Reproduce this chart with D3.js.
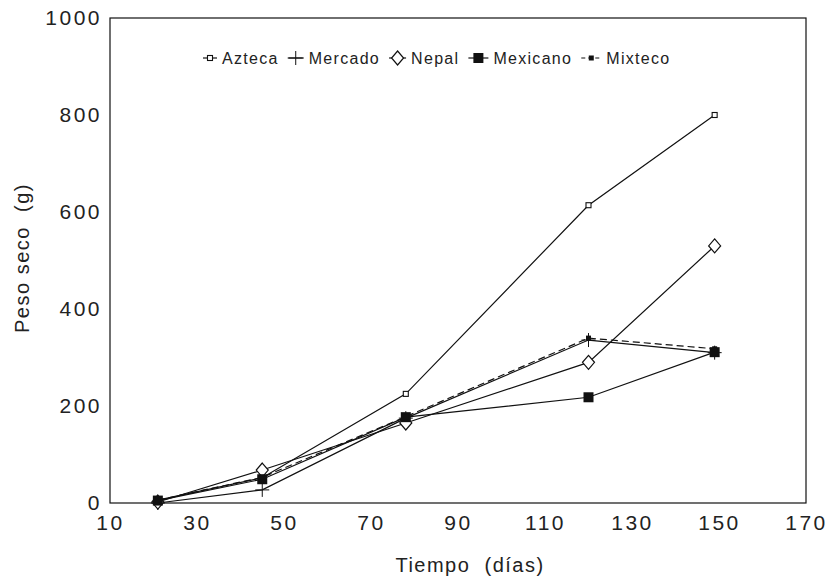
<!DOCTYPE html>
<html>
<head>
<meta charset="utf-8">
<script src="https://cdn.jsdelivr.net/npm/d3@7"></script>
<style>
  body { margin: 0; background: #fff; }
  text { font-family: "Liberation Sans", Arial, sans-serif; fill: #222; }
</style>
</head>
<body>
<div id="chart"></div>
<script>
// days after sowing
const dias = [21, 45, 78, 120, 149];

// dry weight (g) per variety
const azteca   = [6, 52, 225, 614, 800];
const mercado  = [0, 27, 175, 336, 310];
const nepal    = [2, 68, 165, 290, 530];
const mexicano = [5, 49, 177, 218, 311];
const mixteco  = [6, 53, 178, 340, 318];

const nombres = ["Azteca", "Mercado", "Nepal", "Mexicano", "Mixteco"];
const xTicks = [10, 30, 50, 70, 90, 110, 130, 150, 170];
const yTicks = [0, 200, 400, 600, 800, 1000];

const series = [
  {name: nombres[0], values: azteca,   marker: "openSquare"},
  {name: nombres[1], values: mercado,  marker: "plus"},
  {name: nombres[2], values: nepal,    marker: "diamond"},
  {name: nombres[3], values: mexicano, marker: "bigSquare"},
  {name: nombres[4], values: mixteco,  marker: "smallSquare", dash: "7,4"}
];

const svgWidth = 830, svgHeight = 580;
const margin = {top: 18, right: 24, bottom: 77, left: 110};
const width = svgWidth - margin.left - margin.right,
      height = svgHeight - margin.top - margin.bottom;

const svg = d3.select("#chart").append("svg")
    .attr("width", svgWidth).attr("height", svgHeight);

const g = svg.append("g")
    .attr("transform", "translate(" + margin.left + "," + margin.top + ")");

const x = d3.scaleLinear().domain([10, 170]).range([0, width]);
const y = d3.scaleLinear().domain([0, 1000]).range([height, 0]);

// frame
g.append("rect")
    .attr("width", width).attr("height", height)
    .attr("fill", "none").attr("stroke", "#111").attr("stroke-width", 1.2);

// axes, labels only
const xAxis = g.append("g")
    .attr("transform", "translate(0," + height + ")")
    .call(d3.axisBottom(x).tickValues(xTicks).tickFormat(d3.format("d")).tickSize(0).tickPadding(12));
const yAxis = g.append("g")
    .call(d3.axisLeft(y).tickValues(yTicks).tickFormat(d3.format("d")).tickSize(0).tickPadding(8));
[xAxis, yAxis].forEach(a => {
  a.select(".domain").remove();
  a.selectAll("text")
    .style("font-size", "21px")
    .style("letter-spacing", "2.5px")
    .style("font-family", "Liberation Sans, Arial, sans-serif")
    .attr("fill", "#222");
});

svg.append("text")
    .attr("x", 470).attr("y", 572)
    .attr("text-anchor", "middle")
    .style("font-size", "20px")
    .style("letter-spacing", "1.5px")
    .text("Tiempo\u00a0\u00a0(días)");

svg.append("text")
    .attr("transform", "translate(29,258) rotate(-90)")
    .attr("text-anchor", "middle")
    .style("font-size", "20px")
    .style("letter-spacing", "1.5px")
    .text("Peso seco\u00a0\u00a0(g)");

function drawMarker(sel, type) {
  if (type === "openSquare") {
    sel.append("rect").attr("x", -2.5).attr("y", -2.5).attr("width", 5).attr("height", 5)
      .attr("fill", "#fff").attr("stroke", "#111").attr("stroke-width", 1.1);
  } else if (type === "plus") {
    sel.append("path").attr("d", "M-7,0H7M0,-7V7")
      .attr("stroke", "#111").attr("stroke-width", 1).attr("fill", "none");
  } else if (type === "diamond") {
    sel.append("path").attr("d", "M0,-7L6,0L0,7L-6,0Z")
      .attr("fill", "#fff").attr("stroke", "#111").attr("stroke-width", 1.2);
  } else if (type === "bigSquare") {
    sel.append("rect").attr("x", -5).attr("y", -5).attr("width", 10).attr("height", 10)
      .attr("fill", "#111");
  } else {
    sel.append("rect").attr("x", -2.5).attr("y", -2.5).attr("width", 5).attr("height", 5)
      .attr("fill", "#111");
  }
}

const line = d3.line()
    .x((d, i) => x(dias[i]))
    .y(d => y(d));

series.forEach(s => {
  g.append("path")
    .datum(s.values)
    .attr("fill", "none")
    .attr("stroke", "#111")
    .attr("stroke-width", 1.2)
    .attr("stroke-dasharray", s.dash || null)
    .attr("d", line);
});

series.forEach(s => {
  s.values.forEach((v, i) => {
    const m = g.append("g").attr("transform", "translate(" + x(dias[i]) + "," + y(v) + ")");
    drawMarker(m, s.marker);
  });
});

// legend
const legend = svg.append("g").attr("transform", "translate(0,58)");
const legendSym = [14, 16, 17, 20, 20];
let lx = 203;
series.forEach((s, i) => {
  const it = legend.append("g").attr("transform", "translate(" + lx + ",0)");
  const w = legendSym[i];
  it.append("line").attr("x1", 0).attr("x2", w).attr("y1", 0).attr("y2", 0)
    .attr("stroke", "#111").attr("stroke-width", 1.2)
    .attr("stroke-dasharray", s.dash ? "4,3" : null);
  drawMarker(it.append("g").attr("transform", "translate(" + (w / 2) + ",0)"), s.marker);
  const t = it.append("text").attr("x", w + 5).attr("dy", "0.35em")
    .style("font-size", "16px").style("letter-spacing", "1.3px").text(s.name);
  lx += w + 5 + t.node().getComputedTextLength() + 9;
});
</script>
</body>
</html>
